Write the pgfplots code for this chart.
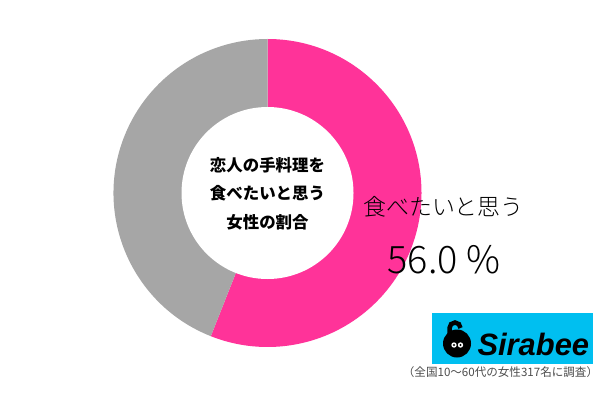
\documentclass[border=0pt]{standalone}
\usepackage{pgfplots}
\pgfplotsset{compat=1.18}
\usepackage{pgfplotstable}
\usepackage{fontspec}
\setmainfont{Liberation Sans}
\newfontfamily\jp{Noto Sans CJK JP}
\newfontfamily\jpl{Noto Sans CJK JP Light}
\newfontfamily\logofont{Liberation Sans}

\definecolor{slicepink}{HTML}{FF3399}
\definecolor{slicegray}{HTML}{A6A6A6}
\definecolor{logocyan}{HTML}{00BFF0}
\definecolor{footgray}{HTML}{4D4D4D}

% share of respondents (percent)
\pgfplotstableread{
group  value
yes    56.0
other  44.0
}\shares

\begin{document}
\begin{tikzpicture}[x=1bp,y=1bp]
\useasboundingbox (0,0) rectangle (600,400);
\fill[white] (0,0) rectangle (600,400);

\pgfplotstablegetelem{0}{value}\of\shares
\pgfmathsetmacro\angEnd{90-3.6*\pgfplotsretval}

\begin{axis}[
  at={(267.5bp,207bp)}, anchor=center,
  width=308bp, height=308bp, scale only axis,
  xmin=-1, xmax=1, ymin=-1, ymax=1,
  hide axis, clip=false]
  % pink slice, clockwise from the top
  \fill[slicepink] (axis cs:0,0) -- ++(90:154bp)
      arc[start angle=90, end angle=\angEnd, radius=154bp] -- cycle;
  % remaining share
  \fill[slicegray] (axis cs:0,0) -- ++(\angEnd:154bp)
      arc[start angle=\angEnd, end angle=-270, radius=154bp] -- cycle;
  % donut hole
  \fill[white] (axis cs:0,0) circle[radius=86bp];
\end{axis}

% centre caption
\node[font=\jp\bfseries\fontsize{16.5}{28.5}\selectfont, align=center]
  at (267.5,206.5) {恋人の手料理を\\食べたいと思う\\女性の割合};

% slice label
\node[font=\jpl\fontsize{23}{23}\selectfont] at (443.5,193.5) {食べたいと思う};
\node[font=\jpl\fontsize{38}{38}\selectfont, anchor=base] at (444,127) {56.0 \%};

% logo
\fill[logocyan] (432,36) rectangle (593,87);
\fill[black] (457,56.5) circle[radius=14];
\draw[black, line width=4.5bp] (449.5,63) -- (449.5,72) arc[start angle=180, end angle=0, radius=5.5];
\fill[white] (454,55) circle[radius=2.7];
\fill[white] (460.5,55) circle[radius=2.7];
\fill[black] (454,55) circle[radius=1.1];
\fill[black] (460.5,55) circle[radius=1.1];
\node[anchor=base west, font=\logofont\bfseries\itshape\fontsize{31}{31}\selectfont]
  at (474,45) {Sirabee};

% footnote
\node[font=\jp\fontsize{11.6}{11.6}\selectfont, text=footgray, inner sep=0pt] at (500.5,28)
  {（全国10～60代の女性317名に調査）};
\end{tikzpicture}
\end{document}
